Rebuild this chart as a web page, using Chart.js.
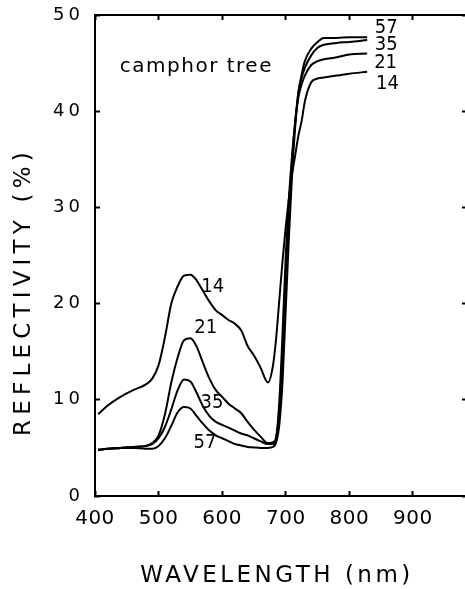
<!DOCTYPE html>
<html>
<head>
<meta charset="utf-8">
<script src="https://cdn.jsdelivr.net/npm/chart.js@4.4.1/dist/chart.umd.min.js"></script>
<style>
  html, body { margin: 0; padding: 0; background: #fff; overflow: hidden; }
  #wrap { width: 470px; height: 589px; }
  canvas { display: block; }
</style>
</head>
<body>
<div id="wrap"><canvas id="c" width="470" height="589"></canvas></div>
<script>
// ---- data ----
const wavelengths = [405, 420, 440, 460, 480, 490, 500, 510, 520, 530, 540, 550, 560, 570, 580, 590, 600, 610, 620, 630, 640, 650, 660, 672, 680, 685, 690, 695, 700, 705, 710, 715, 720, 725, 730, 740, 750, 760, 780, 800, 828];
const refl14 = [8.5, 9.4, 10.3, 11.0, 11.6, 12.2, 13.6, 16.5, 20.0, 21.8, 22.9, 23.0, 22.4, 21.3, 20.2, 19.3, 18.8, 18.3, 17.9, 17.2, 15.6, 14.6, 13.4, 11.8, 13.6, 16.5, 20.5, 24.5, 28.0, 31.0, 33.5, 35.5, 37.5, 39.0, 41.0, 43.0, 43.4, 43.5, 43.7, 43.9, 44.1];
const refl21 = [4.8, 4.9, 5.0, 5.1, 5.2, 5.5, 6.3, 8.5, 11.8, 14.4, 16.2, 16.4, 15.5, 13.8, 12.2, 11.0, 10.3, 9.6, 9.1, 8.6, 7.7, 6.9, 6.2, 5.5, 5.6, 6.2, 10.0, 17.0, 25.0, 31.0, 35.5, 39.0, 41.5, 42.8, 43.7, 44.8, 45.2, 45.4, 45.6, 45.9, 46.0];
const refl35 = [4.8, 4.9, 5.0, 5.1, 5.2, 5.4, 6.0, 7.2, 9.0, 11.0, 12.1, 11.9, 10.7, 9.3, 8.3, 7.7, 7.4, 7.1, 6.8, 6.5, 6.3, 6.0, 5.7, 5.4, 5.4, 6.0, 9.0, 15.0, 23.0, 30.0, 35.0, 39.0, 42.0, 43.5, 44.5, 45.8, 46.6, 46.9, 47.1, 47.2, 47.4];
const refl57 = [4.8, 4.9, 5.0, 5.0, 4.9, 4.9, 5.2, 6.0, 7.3, 8.7, 9.25, 9.1, 8.3, 7.5, 6.8, 6.3, 6.0, 5.7, 5.4, 5.25, 5.1, 5.05, 5.0, 5.0, 5.1, 5.6, 7.5, 12.0, 19.5, 27.0, 33.5, 38.5, 42.0, 43.8, 45.2, 46.5, 47.2, 47.6, 47.6, 47.7, 47.7];
const seriesNames = ['14', '21', '35', '57'];
const xTickValues = [400, 500, 600, 700, 800, 900];
const yTickValues = [0, 10, 20, 30, 40, 50];
const xTitle = 'WAVELENGTH (nm)';
const yTitle = 'REFLECTIVITY (%)';
const plotTitle = 'camphor tree';
// annotation anchors in data units (nm, %)
const curveLabelNm  = [585, 574, 584, 573, 858, 858, 857, 860];
const curveLabelPct = [21.7, 17.5, 9.7, 5.5, 48.7, 46.9, 45.0, 42.9];
const curveLabelTxt = ['14', '21', '35', '57', '57', '35', '21', '14'];

// ---- a linear scale that supports letter spacing and title shift ----
class SpacedLinearScale extends Chart.LinearScale {
  drawLabels(chartArea) {
    const ctx = this.ctx;
    ctx.save();
    ctx.letterSpacing = this.options.ticks.spacing || '0px';
    super.drawLabels(chartArea);
    ctx.restore();
  }
  drawTitle() {
    const ctx = this.ctx;
    ctx.save();
    ctx.letterSpacing = this.options.title.spacing || '0px';
    const sh = this.options.title.shift || 0;
    if (this.isHorizontal()) ctx.translate(sh, 0); else ctx.translate(0, sh);
    super.drawTitle();
    ctx.restore();
  }
}
SpacedLinearScale.id = 'spacedLinear';
SpacedLinearScale.defaults = Chart.LinearScale.defaults;
Chart.register(SpacedLinearScale);

const toPoints = (arr) => wavelengths.map((w, i) => ({ x: w, y: arr[i] }));
const allSeries = [refl14, refl21, refl35, refl57];

const annotate = {
  id: 'annotate',
  afterDatasetsDraw(chart) {
    const { ctx, scales: { x, y } } = chart;
    ctx.save();
    ctx.fillStyle = '#000';
    ctx.textBaseline = 'middle';
    ctx.font = '20px "DejaVu Sans"';
    ctx.textAlign = 'left';
    ctx.letterSpacing = '1.5px';
    ctx.fillText(plotTitle, x.getPixelForValue(439), y.getPixelForValue(44.6));
    ctx.letterSpacing = '0px';
    ctx.font = '20px "DejaVu Sans Condensed", "Liberation Sans Narrow", "DejaVu Sans"';
    ctx.textAlign = 'center';
    curveLabelTxt.forEach((t, i) => {
      ctx.fillText(t, x.getPixelForValue(curveLabelNm[i]), y.getPixelForValue(curveLabelPct[i]));
    });
    ctx.restore();
  }
};

const zeroPad = (s) => { s.paddingTop = 0; s.paddingBottom = 0; s.paddingLeft = 0; s.paddingRight = 0; };

const axisCommon = {
  grid: { drawOnChartArea: false, drawTicks: true, tickLength: -5, tickWidth: 2, color: '#000' },
  border: { display: true, color: '#000', width: 2 }
};

new Chart(document.getElementById('c'), {
  type: 'line',
  data: {
    datasets: allSeries.map((s, i) => ({
      label: seriesNames[i],
      data: toPoints(s),
      borderColor: '#000',
      borderWidth: 2,
      pointRadius: 0,
      fill: false,
      cubicInterpolationMode: 'monotone'
    }))
  },
  options: {
    responsive: false,
    animation: false,
    events: [],
    layout: { padding: 0 },
    plugins: { legend: { display: false }, tooltip: { enabled: false } },
    scales: {
      x: {
        type: 'spacedLinear', position: 'bottom', min: 400, max: 985,
        afterBuildTicks: (s) => { s.ticks = xTickValues.map(v => ({ value: v })); },
        afterFit: (s) => { s.height = 93; zeroPad(s); },
        ticks: { color: '#000', padding: 18, maxRotation: 0, autoSkip: false, spacing: '0.5px',
                 font: { family: 'DejaVu Sans', size: 20, lineHeight: 1 } },
        title: { display: true, text: xTitle, color: '#000', spacing: '3.5px', shift: -4,
                 font: { family: 'DejaVu Sans', size: 23, lineHeight: 1 }, padding: { top: 0, bottom: 1.5 } },
        ...axisCommon
      },
      x2: {
        type: 'linear', position: 'top', min: 400, max: 985,
        afterBuildTicks: (s) => { s.ticks = xTickValues.map(v => ({ value: v })); },
        afterFit: (s) => { s.height = 15; zeroPad(s); },
        ticks: { display: false },
        ...axisCommon
      },
      y: {
        type: 'spacedLinear', position: 'left', min: 0, max: 50,
        afterBuildTicks: (s) => { s.ticks = yTickValues.map(v => ({ value: v })); },
        afterFit: (s) => { s.width = 95; zeroPad(s); },
        ticks: { color: '#000', padding: 16, spacing: '4px',
                 font: { family: 'DejaVu Sans', size: 18, lineHeight: 1 } },
        title: { display: true, text: yTitle, color: '#000', spacing: '5.2px', shift: 36,
                 font: { family: 'DejaVu Sans', size: 23, lineHeight: 1 }, padding: { top: 12.5, bottom: 0 } },
        ...axisCommon
      },
      y2: {
        type: 'linear', position: 'right', min: 0, max: 50,
        afterBuildTicks: (s) => { s.ticks = yTickValues.map(v => ({ value: v })); },
        afterFit: (s) => { s.width = 3; zeroPad(s); },
        ticks: { display: false },
        ...axisCommon
      }
    }
  },
  plugins: [annotate]
});
</script>
</body>
</html>
